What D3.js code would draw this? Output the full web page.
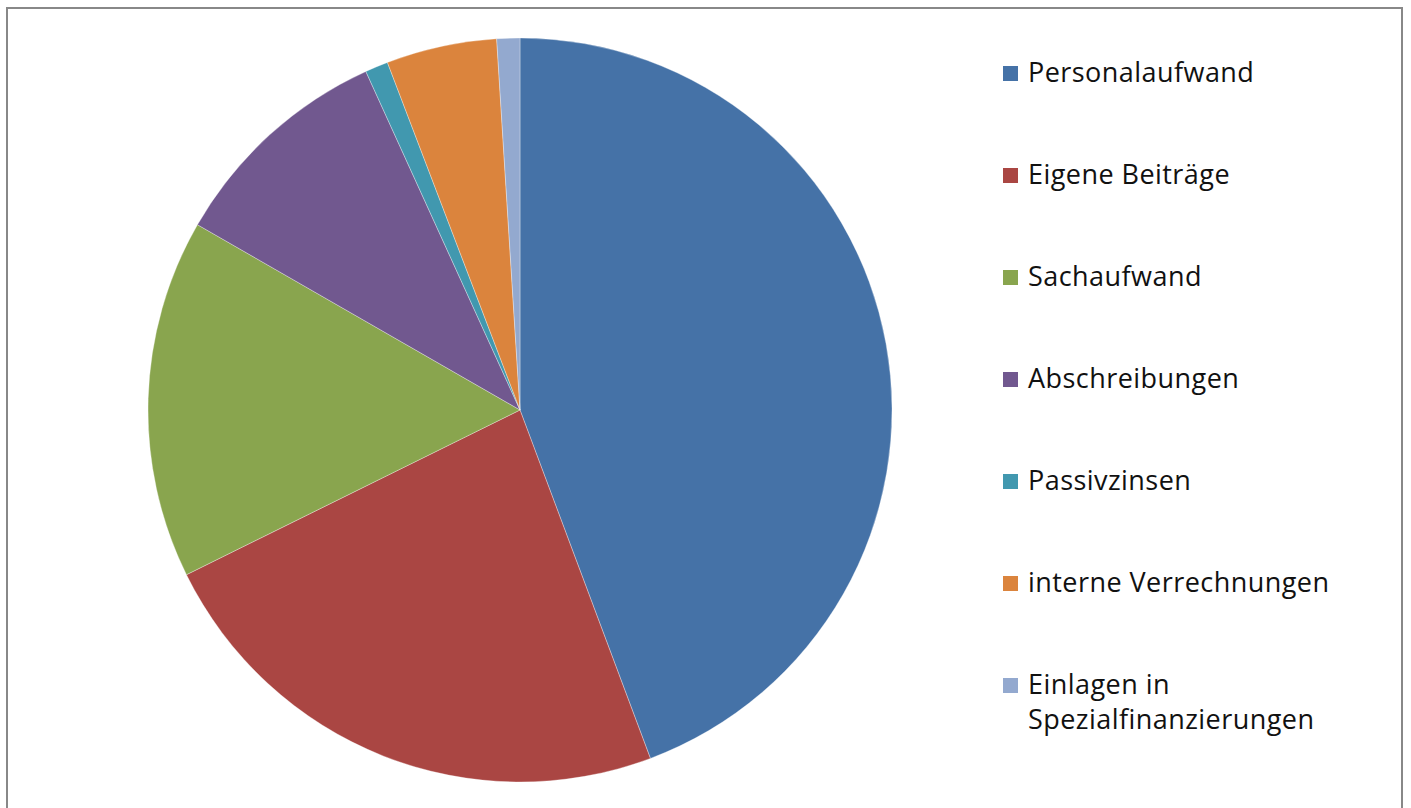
<!DOCTYPE html>
<html><head><meta charset="utf-8">
<script src="https://cdn.jsdelivr.net/npm/d3@7"></script>
<style>html,body{margin:0;padding:0;background:#fff;}svg{display:block;}</style>
</head><body>
<svg id="c" width="1411" height="808"></svg>
<script>
const categories = ["Personalaufwand","Eigene Beiträge","Sachaufwand","Abschreibungen","Passivzinsen","interne Verrechnungen","Einlagen in Spezialfinanzierungen"];
const values = [44.3, 23.4, 15.6, 9.9, 1.0, 4.8, 1.0];
const colors = ["#4572A7","#AA4643","#89A54E","#71588F","#4198AF","#DB843D","#93A9CF"];
const legendLines = [["Personalaufwand"],["Eigene Beiträge"],["Sachaufwand"],["Abschreibungen"],["Passivzinsen"],["interne Verrechnungen"],["Einlagen in","Spezialfinanzierungen"]];

const svg = d3.select("#c");
svg.append("rect").attr("x",7).attr("y",8).attr("width",1395).attr("height",820)
  .attr("fill","#fff").attr("stroke","#888").attr("stroke-width",2);

const data = categories.map((c,i)=>({name:c,value:values[i],color:colors[i]}));
const pie = d3.pie().sort(null).value(d=>d.value);
const arc = d3.arc().innerRadius(0).outerRadius(372);
const g = svg.append("g").attr("transform","translate(520,410)");
g.selectAll("path").data(pie(data)).join("path")
  .attr("d",arc).attr("fill",d=>d.data.color)
  .attr("stroke","rgba(255,255,255,0.4)").attr("stroke-width",0.8);

const color = d3.scaleOrdinal().domain(categories).range(colors);
const y = d3.scalePoint().domain(categories).range([73,685]);
const lg = svg.append("g");
const items = lg.selectAll("g").data(categories).join("g")
  .attr("transform",d=>`translate(1003,${y(d)})`);
items.append("rect").attr("x",0).attr("y",-7).attr("width",15).attr("height",15).attr("fill",d=>color(d));
items.each(function(d,i){
  const t = d3.select(this).append("text").attr("x",25).attr("y",0)
    .attr("font-family","'Open Sans', 'DejaVu Sans', sans-serif").attr("font-size",27)
    .attr("letter-spacing",0.45).attr("fill","#111");
  legendLines[i].forEach((ln,j)=>{
    t.append("tspan").attr("x",25).attr("dy", j===0 ? "0.35em" : 35).text(ln);
  });
});
</script>
</body></html>
